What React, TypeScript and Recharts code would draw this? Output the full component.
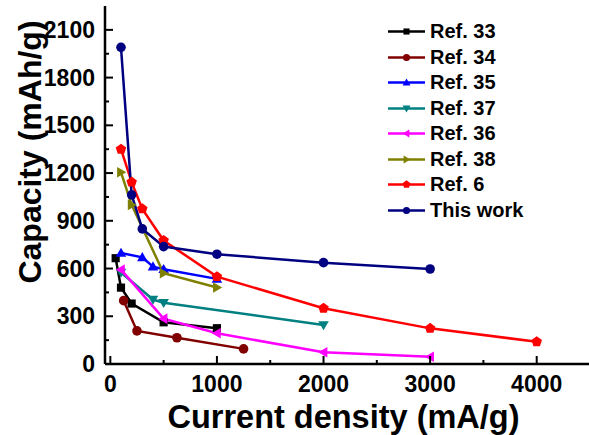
import React from 'react';
import { LineChart, Line, XAxis, YAxis, Legend, Label } from 'recharts';

// values (x = current density mA/g, y = capacity mAh/g)
const ref33X = [50, 100, 200, 500, 1000];
const ref33Y = [665, 480, 380, 262, 225];
const ref34X = [125, 250, 625, 1250];
const ref34Y = [398, 208, 165, 95];
const ref35X = [100, 300, 400, 500, 1000];
const ref35Y = [698, 670, 612, 596, 535];
const ref37X = [100, 400, 500, 2000];
const ref37Y = [575, 405, 385, 245];
const ref36X = [100, 500, 1000, 2000, 3000];
const ref36Y = [593, 285, 193, 74, 46];
const ref38X = [100, 200, 500, 1000];
const ref38Y = [1205, 1000, 570, 481];
const ref6X = [100, 200, 300, 500, 1000, 2000, 3000, 4000];
const ref6Y = [1350, 1143, 975, 776, 549, 350, 224, 140];
const thisWorkX = [100, 200, 300, 500, 1000, 2000, 3000];
const thisWorkY = [1990, 1063, 849, 738, 690, 637, 597];

const xMajorTicks = [0, 1000, 2000, 3000, 4000];
const xMinorTicks = [500, 1500, 2500, 3500];
const yMajorTicks = [0, 300, 600, 900, 1200, 1500, 1800, 2100];
const yMinorTicks = [150, 450, 750, 1050, 1350, 1650, 1950];

const FONT = '"Liberation Sans", Arial, sans-serif';

type Shape = 'square' | 'circle' | 'up' | 'down' | 'left' | 'right' | 'pentagon';

const toRows = (xs: number[], ys: number[]) => xs.map((x, i) => ({ x, y: ys[i] }));

const series: { name: string; color: string; shape: Shape; data: { x: number; y: number }[] }[] = [
  { name: 'Ref. 33', color: '#000000', shape: 'square', data: toRows(ref33X, ref33Y) },
  { name: 'Ref. 34', color: '#800000', shape: 'circle', data: toRows(ref34X, ref34Y) },
  { name: 'Ref. 35', color: '#0000ff', shape: 'up', data: toRows(ref35X, ref35Y) },
  { name: 'Ref. 37', color: '#008080', shape: 'down', data: toRows(ref37X, ref37Y) },
  { name: 'Ref. 36', color: '#ff00ff', shape: 'left', data: toRows(ref36X, ref36Y) },
  { name: 'Ref. 38', color: '#808000', shape: 'right', data: toRows(ref38X, ref38Y) },
  { name: 'Ref. 6', color: '#ff0000', shape: 'pentagon', data: toRows(ref6X, ref6Y) },
  { name: 'This work', color: '#000080', shape: 'circle', data: toRows(thisWorkX, thisWorkY) },
];

const Marker = ({ shape, cx, cy, color, s }: { shape: Shape; cx: number; cy: number; color: string; s: number }) => {
  const pts = (list: number[][]) => list.map(([a, b]) => `${cx + a},${cy + b}`).join(' ');
  switch (shape) {
    case 'square':
      return <rect x={cx - s * 0.85} y={cy - s * 0.85} width={s * 1.7} height={s * 1.7} fill={color} />;
    case 'circle':
      return <circle cx={cx} cy={cy} r={s} fill={color} />;
    case 'up':
      return <polygon points={pts([[0, -s * 1.1], [s * 1.1, s * 0.8], [-s * 1.1, s * 0.8]])} fill={color} />;
    case 'down':
      return <polygon points={pts([[0, s * 1.1], [s * 1.1, -s * 0.8], [-s * 1.1, -s * 0.8]])} fill={color} />;
    case 'left':
      return <polygon points={pts([[-s * 1.1, 0], [s * 0.8, -s * 1.1], [s * 0.8, s * 1.1]])} fill={color} />;
    case 'right':
      return <polygon points={pts([[s * 1.1, 0], [-s * 0.8, -s * 1.1], [-s * 0.8, s * 1.1]])} fill={color} />;
    case 'pentagon': {
      const r = s * 1.15;
      const p = [0, 1, 2, 3, 4].map((k) => {
        const a = ((-90 + 72 * k) * Math.PI) / 180;
        return [r * Math.cos(a), r * Math.sin(a)];
      });
      return <polygon points={pts(p)} fill={color} />;
    }
  }
  return null;
};

const XTick = (props: any) => {
  const { x, y, payload } = props;
  const major = xMajorTicks.includes(payload.value);
  return (
    <g>
      <line x1={x} x2={x} y1={y} y2={y - (major ? 8 : 4)} stroke="#000" strokeWidth={2} />
      {major && (
        <text x={x} y={y + 28} textAnchor="middle" fontFamily={FONT} fontWeight="bold" fontSize={23} fill="#000">
          {payload.value}
        </text>
      )}
    </g>
  );
};

const YTick = (props: any) => {
  const { x, y, payload } = props;
  const major = yMajorTicks.includes(payload.value);
  return (
    <g>
      <line x1={x} x2={x + (major ? 8 : 4)} y1={y} y2={y} stroke="#000" strokeWidth={2} />
      {major && (
        <text x={x - 10} y={y + 8} textAnchor="end" fontFamily={FONT} fontWeight="bold" fontSize={23} fill="#000">
          {payload.value}
        </text>
      )}
    </g>
  );
};

const LegendBox = () => (
  <div style={{ fontFamily: FONT, fontWeight: 'bold', fontSize: 20, color: '#000' }}>
    {series.map((s) => (
      <div key={s.name} style={{ display: 'flex', alignItems: 'center', height: 25.5 }}>
        <svg width={44} height={25} style={{ display: 'block' }}>
          <line x1={3} x2={40} y1={12.5} y2={12.5} stroke={s.color} strokeWidth={2.5} />
          <Marker shape={s.shape} cx={21.5} cy={12.5} color={s.color} s={3.6} />
        </svg>
        <span style={{ marginLeft: 1, lineHeight: '25px' }}>{s.name}</span>
      </div>
    ))}
  </div>
);

export default function App() {
  return (
    <div style={{ position: 'fixed', left: 0, top: 0, width: 589, height: 435, overflow: 'hidden', background: '#fff' }}>
      <LineChart width={600} height={435} margin={{ top: 6, right: 10, bottom: 0, left: 0 }}>
        <XAxis
          dataKey="x"
          type="number"
          domain={[-50, 4500]}
          ticks={[...xMajorTicks, ...xMinorTicks].sort((a, b) => a - b)}
          interval={0}
          height={71}
          tickSize={0}
          tickMargin={0}
          tickLine={false}
          tick={<XTick />}
          axisLine={{ stroke: '#000', strokeWidth: 2.5 }}
        >
          <Label
            content={(p: any) => (
              <text
                x={p.viewBox.x + p.viewBox.width / 2 - 4}
                y={p.viewBox.y + 64}
                textAnchor="middle"
                fontFamily={FONT}
                fontWeight="bold"
                fontSize={32.5}
                fill="#000"
              >
                Current density (mA/g)
              </text>
            )}
          />
        </XAxis>
        <XAxis
          xAxisId="top"
          orientation="top"
          type="number"
          domain={[-50, 4500]}
          height={0}
          tick={false}
          tickLine={false}
          axisLine={{ stroke: '#000', strokeWidth: 2.5 }}
        />
        <YAxis
          type="number"
          domain={[0, 2250]}
          ticks={[...yMajorTicks, ...yMinorTicks].sort((a, b) => a - b)}
          interval={0}
          width={105}
          tickSize={0}
          tickMargin={0}
          tickLine={false}
          tick={<YTick />}
          axisLine={{ stroke: '#000', strokeWidth: 2.5 }}
        >
          <Label
            content={() => (
              <text
                x={41}
                y={152}
                transform="rotate(-90 41 152)"
                textAnchor="middle"
                fontFamily={FONT}
                fontWeight="bold"
                fontSize={32}
                fill="#000"
              >
                Capacity (mAh/g)
              </text>
            )}
          />
        </YAxis>
        <YAxis
          yAxisId="right"
          orientation="right"
          type="number"
          domain={[0, 2250]}
          width={0}
          tick={false}
          tickLine={false}
          axisLine={{ stroke: '#000', strokeWidth: 2.5 }}
        />
        {series.map((s) => (
          <Line
            key={s.name}
            data={s.data}
            dataKey="y"
            name={s.name}
            stroke={s.color}
            strokeWidth={2.5}
            isAnimationActive={false}
            dot={(p: any) => (
              <Marker key={`${s.name}-${p.index}`} shape={s.shape} cx={p.cx} cy={p.cy} color={s.color} s={4.8} />
            )}
            activeDot={false}
          />
        ))}
        <Legend
          layout="vertical"
          align="center"
          verticalAlign="middle"
          content={<LegendBox />}
          wrapperStyle={{ top: 19, left: 385, width: 200 }}
        />
      </LineChart>
    </div>
  );
}
